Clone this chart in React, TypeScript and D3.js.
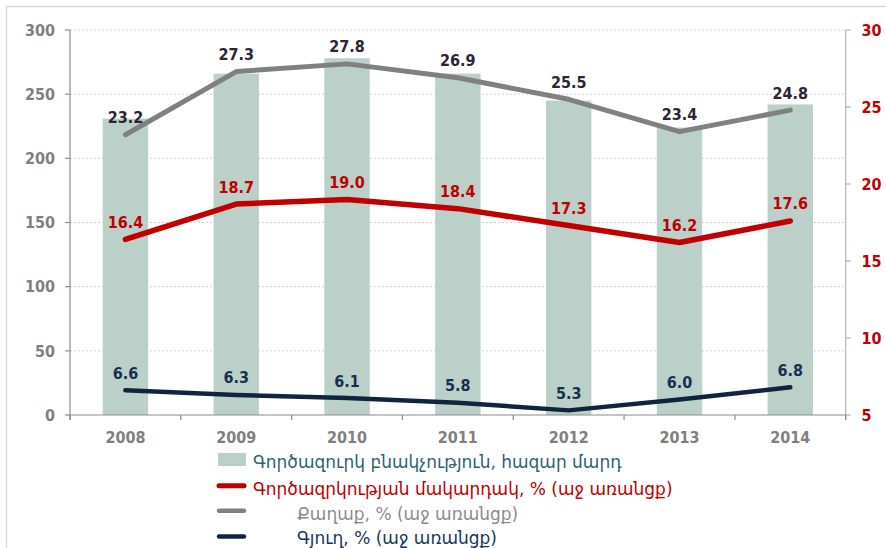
import React from "react";
import * as d3 from "d3";

const years = ["2008", "2009", "2010", "2011", "2012", "2013", "2014"];
const unemployed = [231, 266, 278, 266, 245, 224, 242];
const rateTotal = [16.4, 18.7, 19.0, 18.4, 17.3, 16.2, 17.6];
const rateUrban = [23.2, 27.3, 27.8, 26.9, 25.5, 23.4, 24.8];
const rateRural = [6.6, 6.3, 6.1, 5.8, 5.3, 6.0, 6.8];
const leftTicks = [0, 50, 100, 150, 200, 250, 300];
const rightTicks = [5, 10, 15, 20, 25, 30];
const legendLabels = [
  "Գործազուրկ բնակչություն, հազար մարդ",
  "Գործազրկության մակարդակ, % (աջ առանցք)",
  "Քաղաք, % (աջ առանցք)",
  "Գյուղ, % (աջ առանցք)",
];

const W = 886;
const H = 548;
const L = 70;
const R = 845.7;
const T = 30;
const B = 415;
const FONT = "'DejaVu Sans', Verdana, sans-serif";
const NUMFONT = "'DejaVu Sans Condensed', 'DejaVu Sans', Verdana, sans-serif";
const NS = 16;

export default function App() {
  const x = d3.scaleBand<string>().domain(years).range([L, R]).paddingInner(0.59).paddingOuter(0.295);
  const yL = d3.scaleLinear().domain([0, 300]).range([B, T]);
  const yR = d3.scaleLinear().domain([5, 30]).range([B, T]);
  const cx = (i: number) => (x(years[i]) as number) + x.bandwidth() / 2;
  const line = d3
    .line<number>()
    .x((_, i) => cx(i))
    .y((d) => yR(d));
  const step = x.step();
  const boundaries = d3.range(years.length + 1).map((i) => L + i * step);

  const series = [
    { data: rateUrban, color: "#808080", label: "#2e2433", width: 5 },
    { data: rateTotal, color: "#c00000", label: "#c00000", width: 5.5 },
    { data: rateRural, color: "#10243f", label: "#17304f", width: 4.5 },
  ];

  return (
    <svg width={W} height={H} style={{ position: "absolute", left: 0, top: 0 }} fontFamily={FONT}>
      <rect x={0} y={0} width={W} height={H} fill="#fff" />
      <path d={`M6.5,${H} V6.5 H${W}`} fill="none" stroke="#d9d9d9" strokeWidth={1.5} />
      {leftTicks.filter((t) => t > 0).map((t) => (
        <line key={t} x1={L} x2={R} y1={yL(t)} y2={yL(t)} stroke="#cfcfcf" strokeWidth={1} strokeDasharray="2,2" />
      ))}
      {unemployed.map((v, i) => (
        <rect key={i} x={x(years[i])} y={yL(v)} width={x.bandwidth()} height={B - yL(v)} fill="#bbd0c9" />
      ))}
      <line x1={L} x2={L} y1={T} y2={B + 5} stroke="#8c8c8c" strokeWidth={1.2} />
      {leftTicks.map((t) => (
        <g key={t}>
          <line x1={L - 5} x2={L} y1={yL(t)} y2={yL(t)} stroke="#8c8c8c" strokeWidth={1.2} />
          <text x={55} y={yL(t)} dy="0.36em" textAnchor="end" fontFamily={NUMFONT} fontSize={NS} fontWeight="bold" fill="#808080">
            {t}
          </text>
        </g>
      ))}
      <line x1={R} x2={R} y1={T} y2={B + 5} stroke="#b3b3b3" strokeWidth={1.2} />
      {rightTicks.map((t) => (
        <g key={t}>
          <line x1={R} x2={R + 5} y1={yR(t)} y2={yR(t)} stroke="#b3b3b3" strokeWidth={1.2} />
          <text x={861.5} y={yR(t)} dy="0.36em" textAnchor="start" fontFamily={NUMFONT} fontSize={NS} fontWeight="bold" fill="#c00000">
            {t}
          </text>
        </g>
      ))}
      <line x1={L} x2={R} y1={B} y2={B} stroke="#8c8c8c" strokeWidth={1.2} />
      {boundaries.map((b, i) => (
        <line key={i} x1={b} x2={b} y1={B} y2={B + 5} stroke="#8c8c8c" strokeWidth={1.2} />
      ))}
      {years.map((yv, i) => (
        <text key={yv} x={cx(i)} y={442.5} textAnchor="middle" fontFamily={NUMFONT} fontSize={NS} fontWeight="bold" fill="#808080">
          {yv}
        </text>
      ))}
      {series.map((s, k) => (
        <path key={k} d={line(s.data) || ""} fill="none" stroke={s.color} strokeWidth={s.width} strokeLinecap="round" strokeLinejoin="round" />
      ))}
      {series.map((s, k) =>
        s.data.map((v, i) => (
          <text key={`${k}-${i}`} x={cx(i)} y={yR(v) - 11.5} textAnchor="middle" fontFamily={NUMFONT} fontSize={NS} fontWeight="bold" fill={s.label}>
            {v.toFixed(1)}
          </text>
        ))
      )}
      <rect x={218} y={453} width={28} height={13} fill="#bbd0c9" />
      <text x={253} y={467.5} fontSize={17} fill="#2f6272">{legendLabels[0]}</text>
      <line x1={219} x2={244} y1={485.7} y2={485.7} stroke="#c00000" strokeWidth={5} strokeLinecap="round" />
      <text x={253} y={495} fontSize={17} fill="#c00000">{legendLabels[1]}</text>
      <line x1={219} x2={244} y1={510.7} y2={510.7} stroke="#808080" strokeWidth={4.5} strokeLinecap="round" />
      <text x={297} y={519.5} fontSize={17} fill="#8c8c8c">{legendLabels[2]}</text>
      <line x1={219} x2={244} y1={536.5} y2={536.5} stroke="#10243f" strokeWidth={4.5} strokeLinecap="round" />
      <text x={297} y={543.5} fontSize={17} fill="#17375e">{legendLabels[3]}</text>
    </svg>
  );
}
